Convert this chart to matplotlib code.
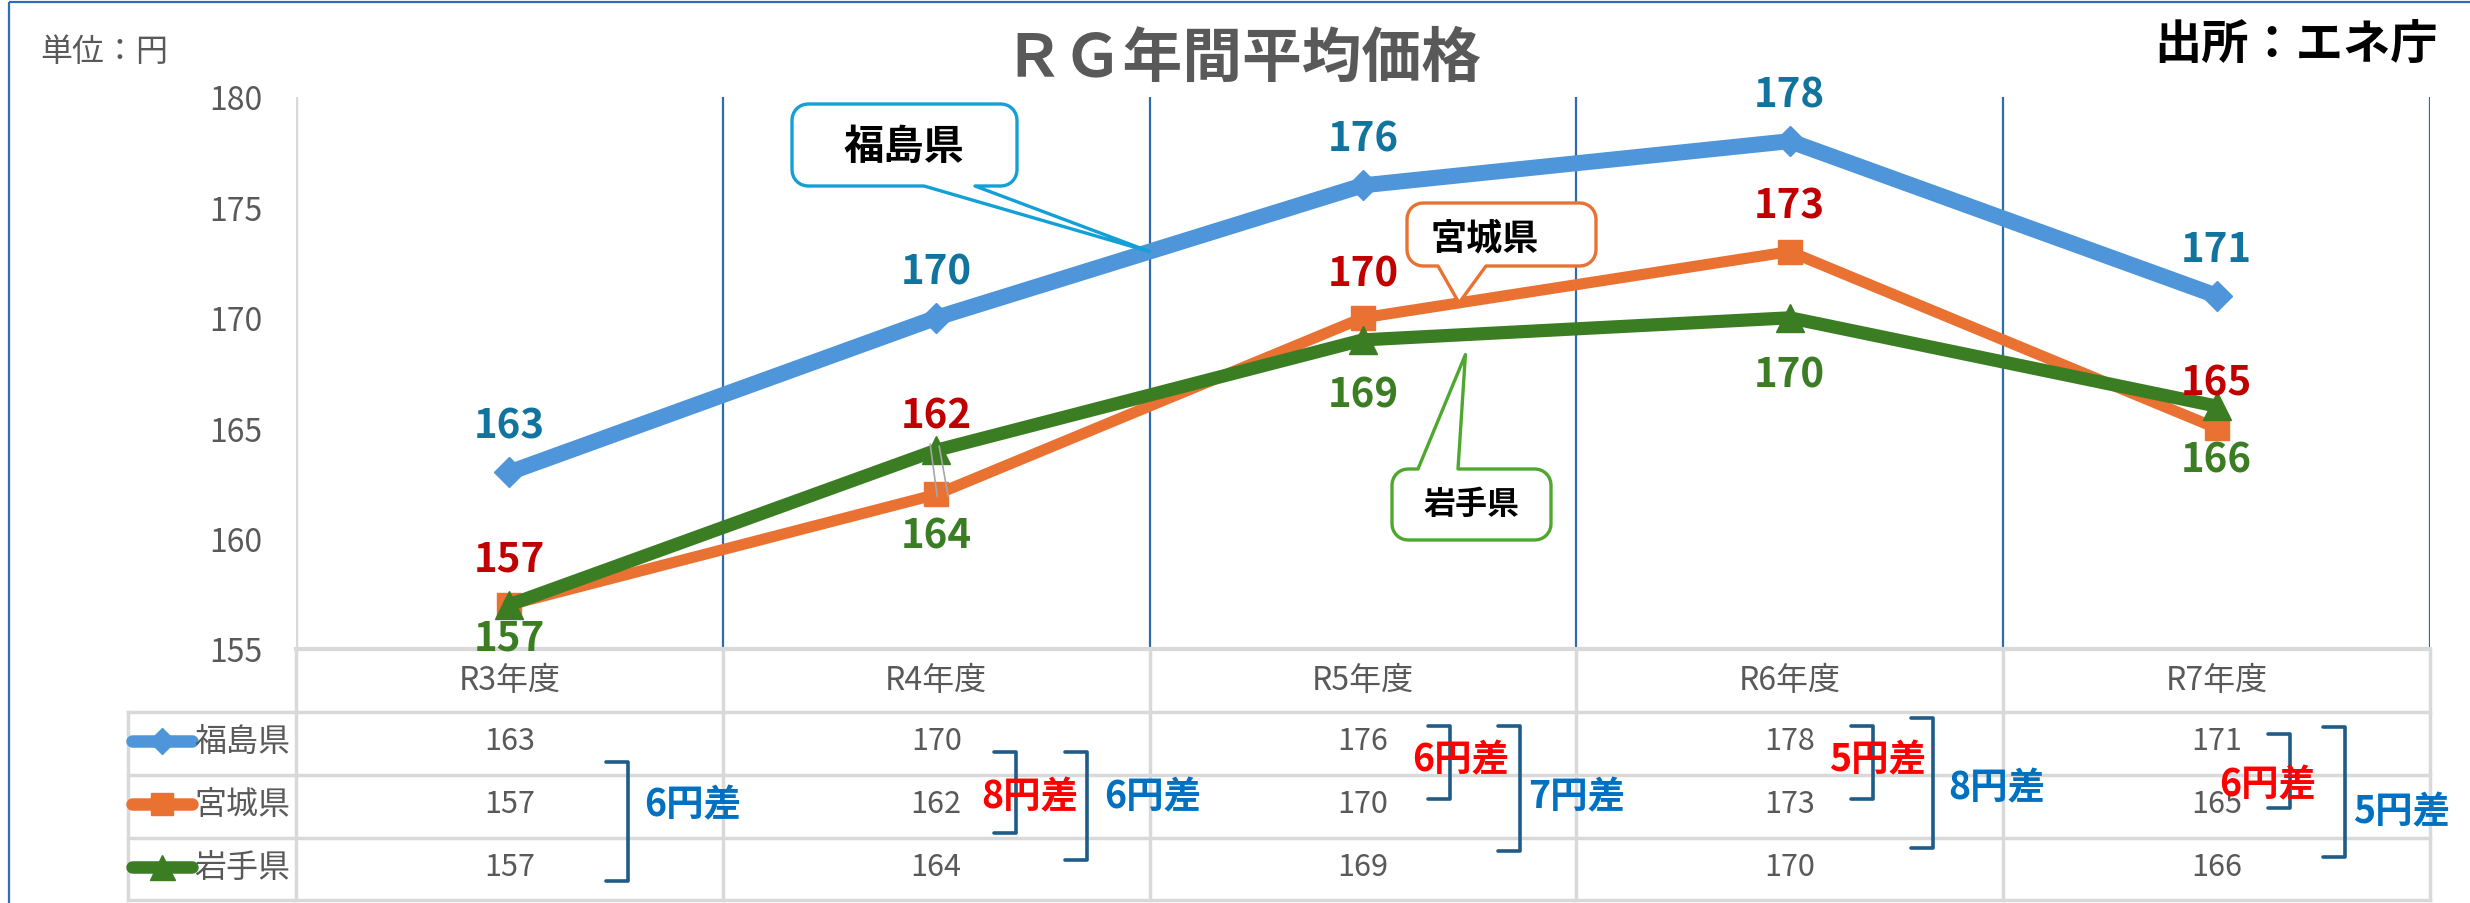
import matplotlib
matplotlib.use('Agg')
import matplotlib.pyplot as plt
from matplotlib.path import Path
from matplotlib.patches import PathPatch, Rectangle
from matplotlib.lines import Line2D
import numpy as np

plt.rcParams['font.family'] = ['Noto Sans CJK JP', 'DejaVu Sans']

# ---------------- data ----------------
categories = ['R3年度', 'R4年度', 'R5年度', 'R6年度', 'R7年度']
series_names = ['福島県', '宮城県', '岩手県']
fukushima = [163, 170, 176, 178, 171]
miyagi = [157, 162, 170, 173, 165]
iwate = [157, 164, 169, 170, 166]
yticks = [155, 160, 165, 170, 175, 180]
title_text = 'ＲＧ年間平均価格'
unit_text = '単位：円'
source_text = '出所：エネ庁'

# ---------------- style ----------------
W, H = 2470, 904
line_colors = ['#4E95D9', '#E97132', '#3B7D23']
label_colors = ['#11749E', '#C00000', '#3B7D23']
line_widths = [11.5, 8, 9.5]
markers = ['D', 's', '^']
marker_sizes = [15, 17, 20]
label_offsets = [[46, 46, 46, 46, 46],
                 [46, 78, 44, 46, 45],
                 [-33, -86, -55, -57, -54]]
gray_txt = '#595959'
grid_gray = '#D9D9D9'
vline_blue = '#2E6AB0'
bracket_col = '#1F5C87'
red_txt = '#FF0000'
blue_txt = '#0070C0'

fig = plt.figure(figsize=(W / 100, H / 100), dpi=100)
fig.patch.set_facecolor('white')

PL, PR, PT, PB = 296, 2430, 98, 650
ax = fig.add_axes([PL / W, 1 - PB / H, (PR - PL) / W, (PB - PT) / H])
ax.set_xlim(-0.5, len(categories) - 0.5)
ax.set_ylim(yticks[0], yticks[-1])
for s in ax.spines.values():
    s.set_visible(False)
ax.set_xticks([])
ax.set_yticks(yticks)
ax.tick_params(axis='y', length=0, pad=24, labelsize=23, labelcolor=gray_txt)
ax.patch.set_alpha(0)

# vertical category boundaries
for k in range(len(categories) + 1):
    xb = k - 0.5
    ax.axvline(xb, color=(grid_gray if k == 0 else vline_blue),
               lw=(2.5 if k == 0 else 1.6), zorder=1)
ax.axhline(yticks[0], color=grid_gray, lw=3, zorder=1, clip_on=False)

xs = np.arange(len(categories))
all_series = [fukushima, miyagi, iwate]
for i, vals in enumerate(all_series):
    ax.plot(xs, vals, color=line_colors[i], lw=line_widths[i], marker=markers[i],
            markersize=marker_sizes[i], markerfacecolor=line_colors[i],
            markeredgecolor=line_colors[i], solid_joinstyle='round',
            solid_capstyle='round', zorder=3 + i, clip_on=False)
    for j, v in enumerate(vals):
        ax.annotate(str(v), (j, v), xytext=(0, label_offsets[i][j]),
                    textcoords='offset pixels', ha='center', va='center',
                    fontsize=29, fontweight='bold', color=label_colors[i],
                    zorder=10, annotation_clip=False)

# ---------------- overlay (pixel coordinates) ----------------
ov = fig.add_axes([0, 0, 1, 1])
ov.set_xlim(0, W)
ov.set_ylim(H, 0)
ov.axis('off')


def to_px(x, y):
    d = ax.transData.transform((x, y))
    return d[0], H - d[1]


# leader lines for R4 labels
gx, gy = to_px(1, iwate[1])
ox, oy = to_px(1, miyagi[1])
ov.plot([gx - 6, ox + 1], [gy - 6, oy + 2], color='#A6A6A6', lw=1.2, zorder=6)
ov.plot([gx + 3, ox + 12], [gy - 4, oy + 2], color='#A6A6A6', lw=1.2, zorder=6)

# outer frame
ov.add_patch(Rectangle((9, 3), W, H, fill=False, edgecolor='#2F6EBA', lw=1.6))

# texts at top
ov.text(40, 52, unit_text, fontsize=23, color=gray_txt, ha='left', va='center')
ov.text(1242, 60, title_text, fontsize=43, color=gray_txt, ha='center',
        va='center', fontweight='bold')
ov.text(2438, 46, source_text, fontsize=34, color='black', ha='right',
        va='center', fontweight='bold')


def callout(x0, y0, x1, y1, r, b0, b1, tip, side, color, text, fs, tpos):
    verts = []

    def arc(cx, cy, a0, a1):
        for a in np.linspace(np.radians(a0), np.radians(a1), 8):
            verts.append((cx + r * np.cos(a), cy + r * np.sin(a)))

    verts.append((x0 + r, y0))
    if side == 'top':
        verts += [(b0, y0), tip, (b1, y0)]
    verts.append((x1 - r, y0))
    arc(x1 - r, y0 + r, -90, 0)
    verts.append((x1, y1 - r))
    arc(x1 - r, y1 - r, 0, 90)
    if side == 'bottom':
        verts += [(b1, y1), tip, (b0, y1)]
    verts.append((x0 + r, y1))
    arc(x0 + r, y1 - r, 90, 180)
    verts.append((x0, y0 + r))
    arc(x0 + r, y0 + r, 180, 270)
    verts.append(verts[0])
    codes = [Path.MOVETO] + [Path.LINETO] * (len(verts) - 2) + [Path.CLOSEPOLY]
    ov.add_patch(PathPatch(Path(verts, codes), facecolor='white',
                           edgecolor=color, lw=2.4, joinstyle='round', zorder=8))
    ov.text(tpos[0], tpos[1], text, fontsize=fs, fontweight='bold',
            color='black', ha='center', va='center', zorder=9)


tip_f = to_px(1.5, (fukushima[1] + fukushima[2]) / 2)
callout(792, 105, 1017, 187, 16, 924, 975, tip_f, 'bottom', '#12A0D7',
        series_names[0], 29, (904, 147))
t = 0.225
tip_m = to_px(2 + t, miyagi[2] + t * (miyagi[3] - miyagi[2]))
callout(1407, 204, 1596, 267, 16, 1438, 1486, tip_m, 'bottom', '#E97132',
        series_names[1], 26, (1485, 239))
t = 0.24
tx, ty = to_px(2 + t, iwate[2] + t * (iwate[3] - iwate[2]))
callout(1392, 470, 1551, 541, 16, 1418, 1458, (tx, ty + 20), 'top', '#4EA72E',
        series_names[2], 23, (1471, 505))

# ---------------- data table ----------------
TL = 128
row_lines = [713, 776, 839, 901]
row_centers = [742, 805, 868]
header_center = 681
bounds_px = [to_px(k - 0.5, yticks[0])[0] for k in range(len(categories) + 1)]
centers_px = [to_px(k, yticks[0])[0] for k in range(len(categories))]
for yl in row_lines:
    ov.plot([TL, PR], [yl, yl], color=grid_gray, lw=2.5, zorder=2)
ov.plot([TL, TL], [row_lines[0], row_lines[-1]], color=grid_gray, lw=2.5, zorder=2)
for k, xb in enumerate(bounds_px):
    ov.plot([xb, xb], [PB, row_lines[-1]], color=grid_gray, lw=2.5, zorder=2)
for k, c in enumerate(categories):
    ov.text(centers_px[k], header_center, c, fontsize=23, color=gray_txt,
            ha='center', va='center')
for i, vals in enumerate(all_series):
    yc = row_centers[i]
    ov.add_line(Line2D([132, 192], [yc, yc], color=line_colors[i], lw=9,
                       solid_capstyle='round'))
    ov.add_line(Line2D([162], [yc], marker=markers[i], markersize=marker_sizes[i] * 0.9,
                       color=line_colors[i]))
    ov.text(194, yc, series_names[i], fontsize=23, color=gray_txt,
            ha='left', va='center')
    for j, v in enumerate(vals):
        ov.text(centers_px[j], yc, str(v), fontsize=22, color=gray_txt,
                ha='center', va='center')

# brackets with differences (red: 福島-宮城, blue: 福島-岩手)
# layout: (category, kind, x_vertical_offset, top, bottom, text_x_offset, text_y, ha)
bracket_layout = [
    (0, 'blue', 119, 763, 882, 135, 805, 'left'),
    (1, 'red', 80, 753, 834, 94, 797, 'center'),
    (1, 'blue', 151, 753, 861, 168, 797, 'left'),
    (2, 'red', 87, 727, 800, 98, 760, 'center'),
    (2, 'blue', 157, 727, 852, 165, 797, 'left'),
    (3, 'red', 83, 727, 800, 88, 760, 'center'),
    (3, 'blue', 143, 719, 849, 158, 788, 'left'),
    (4, 'red', 73, 735, 809, 51, 785, 'center'),
    (4, 'blue', 128, 728, 858, 136, 812, 'left'),
]
for cat, kind, dx, top, bot, tdx, ty_, ha in bracket_layout:
    cx = centers_px[cat]
    xv = cx + dx
    arm = 22
    ov.plot([xv - arm, xv, xv, xv - arm], [top, top, bot, bot], color=bracket_col,
            lw=2.6, solid_joinstyle='round', solid_capstyle='round', zorder=7)
    if kind == 'red':
        diff = fukushima[cat] - miyagi[cat]
        col = red_txt
    else:
        diff = fukushima[cat] - iwate[cat]
        col = blue_txt
    ov.text(cx + tdx, ty_, f'{diff}円差', fontsize=27, fontweight='bold',
            color=col, ha=ha, va='center', zorder=8)

fig.savefig('out.png', dpi=100)
